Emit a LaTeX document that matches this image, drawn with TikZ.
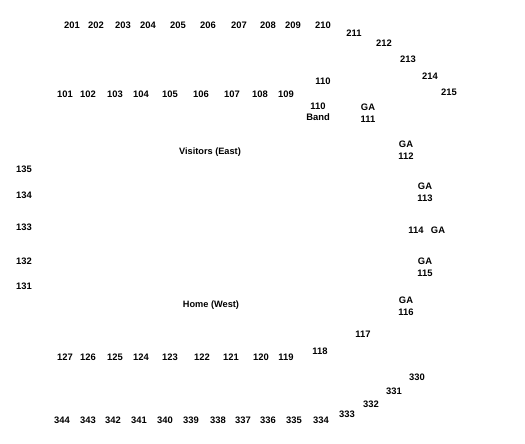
\documentclass[tikz,border=0pt]{standalone}
\usepackage{fontspec}
\setmainfont{Liberation Sans}
\usepackage{tikz}

\tikzset{
    sec/.style={font=\bfseries\fontsize{9.4}{10}\selectfont, inner sep=0pt,
        text height=6.8pt, text depth=0pt},
    sectwo/.style={font=\bfseries\fontsize{9.4}{10}\selectfont, inner sep=0pt,
        align=center},
    stand/.style={font=\bfseries\fontsize{9.2}{10}\selectfont, inner sep=0pt}
}

\begin{document}
\begin{tikzpicture}[x=1pt, y=-1pt]
    \useasboundingbox (0,0) rectangle (525,444);

    % upper deck
    \node[sec] (s201) at (72,25) {201};
    \node[sec] (s202) at (96,25) {202};
    \node[sec] (s203) at (123,25) {203};
    \node[sec] (s204) at (148,25) {204};
    \node[sec] (s205) at (178,25) {205};
    \node[sec] (s206) at (208,25) {206};
    \node[sec] (s207) at (239,25) {207};
    \node[sec] (s208) at (268,25) {208};
    \node[sec] (s209) at (293,25) {209};
    \node[sec] (s210) at (323,25) {210};
    \node[sec] (s211) at (354,33) {211};
    \node[sec] (s212) at (384,43) {212};
    \node[sec] (s213) at (408,59) {213};
    \node[sec] (s214) at (430,76) {214};
    \node[sec] (s215) at (449,92) {215};

    % east stands
    \node[sec] (s101) at (65,94) {101};
    \node[sec] (s102) at (88,94) {102};
    \node[sec] (s103) at (115,94) {103};
    \node[sec] (s104) at (141,94) {104};
    \node[sec] (s105) at (170,94) {105};
    \node[sec] (s106) at (201,94) {106};
    \node[sec] (s107) at (232,94) {107};
    \node[sec] (s108) at (260,94) {108};
    \node[sec] (s109) at (286,94) {109};
    \node[sec] (s110) at (323,81) {110};
    \node[sectwo] (band) at (318,112) {110\\[1pt]Band};
    \node[stand] (visitors) at (210,152) {Visitors (East)};

    % north end, general admission
    \node[sectwo] (s111) at (368,113) {GA\\[2pt]111};
    \node[sectwo] (s112) at (406,150) {GA\\[2pt]112};
    \node[sectwo] (s113) at (425,192) {GA\\[2pt]113};
    \node[sec] (s114) at (416,230) {114};
    \node[sec] (ga114) at (438,230) {GA};
    \node[sectwo] (s115) at (425,267) {GA\\[2pt]115};
    \node[sectwo] (s116) at (406,306) {GA\\[2pt]116};
    \node[sec] (s117) at (363,334) {117};
    \node[sec] (s118) at (320,351) {118};

    % south end
    \node[sec] (s135) at (24,169) {135};
    \node[sec] (s134) at (24,195) {134};
    \node[sec] (s133) at (24,227) {133};
    \node[sec] (s132) at (24,261) {132};
    \node[sec] (s131) at (24,286) {131};

    % west stands
    \node[stand] (home) at (211,305) {Home (West)};
    \node[sec] (s127) at (65,357) {127};
    \node[sec] (s126) at (88,357) {126};
    \node[sec] (s125) at (115,357) {125};
    \node[sec] (s124) at (141,357) {124};
    \node[sec] (s123) at (170,357) {123};
    \node[sec] (s122) at (202,357) {122};
    \node[sec] (s121) at (231,357) {121};
    \node[sec] (s120) at (261,357) {120};
    \node[sec] (s119) at (286,357) {119};

    % lower deck
    \node[sec] (s330) at (417,377) {330};
    \node[sec] (s331) at (394,391) {331};
    \node[sec] (s332) at (371,404) {332};
    \node[sec] (s333) at (347,414) {333};
    \node[sec] (s334) at (321,420) {334};
    \node[sec] (s335) at (294,420) {335};
    \node[sec] (s336) at (268,420) {336};
    \node[sec] (s337) at (243,420) {337};
    \node[sec] (s338) at (218,420) {338};
    \node[sec] (s339) at (191,420) {339};
    \node[sec] (s340) at (165,420) {340};
    \node[sec] (s341) at (139,420) {341};
    \node[sec] (s342) at (113,420) {342};
    \node[sec] (s343) at (88,420) {343};
    \node[sec] (s344) at (62,420) {344};
\end{tikzpicture}
\end{document}
